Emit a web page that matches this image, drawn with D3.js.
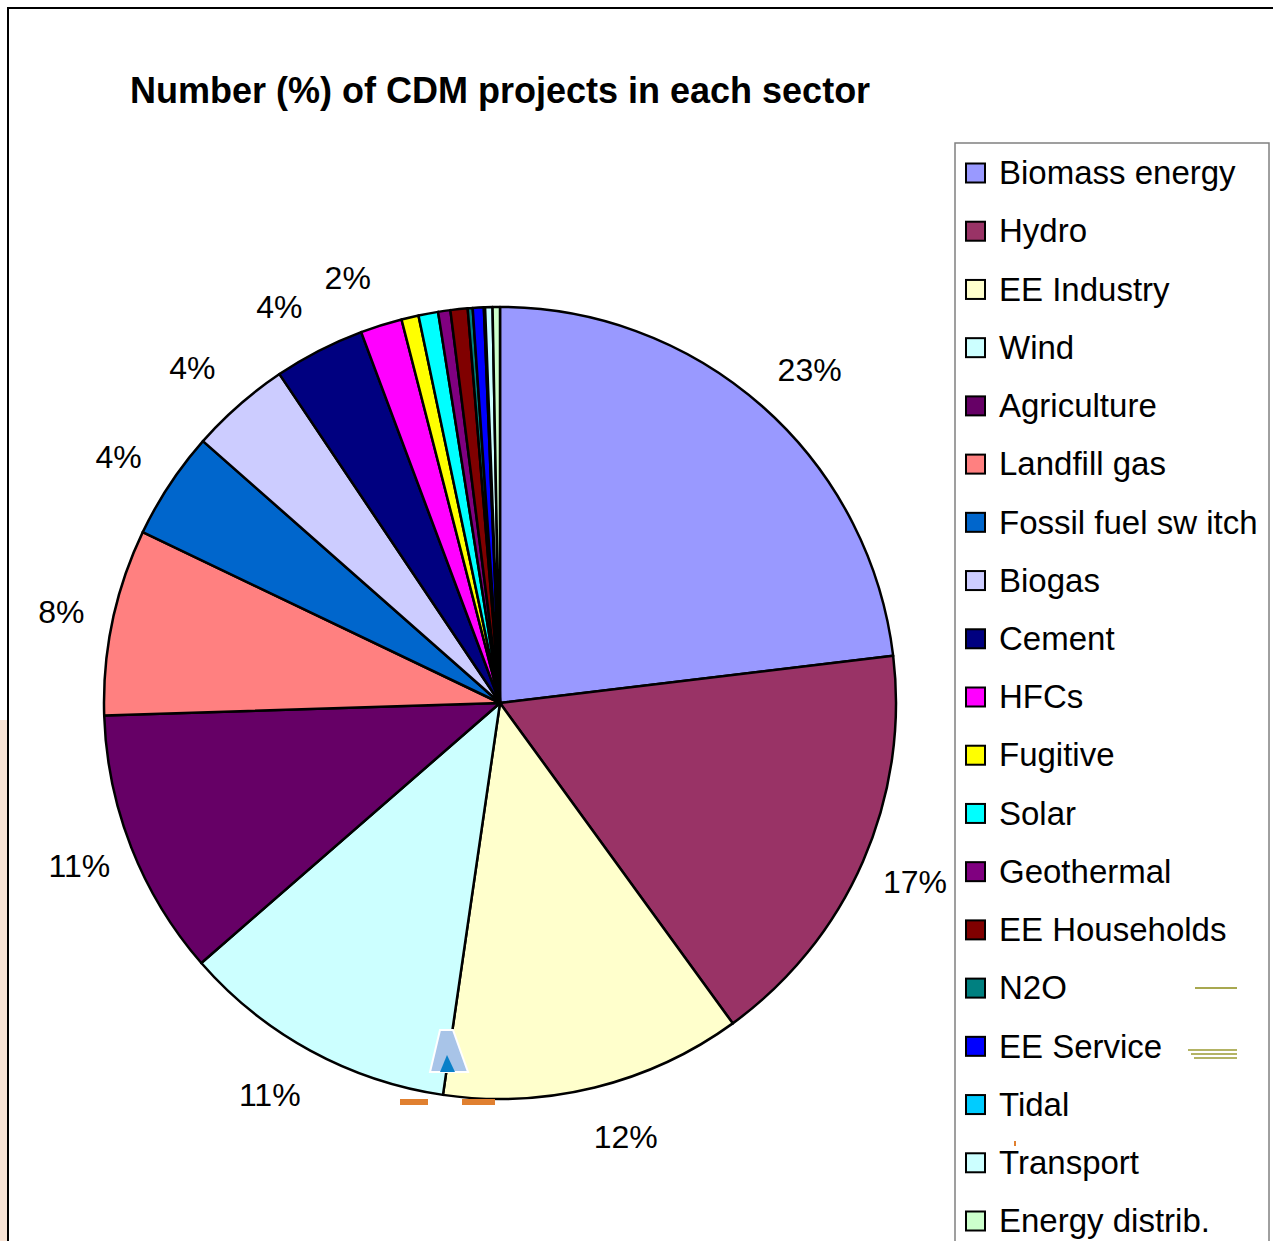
<!DOCTYPE html>
<html>
<head>
<meta charset="utf-8">
<script src="https://cdn.jsdelivr.net/npm/d3@7"></script>
<style>
  body { margin: 0; background: #fff; }
  svg { display: block; font-family: "Liberation Sans", Arial, sans-serif; }
</style>
</head>
<body>
<svg id="chart"></svg>
<script>
const sectors = ["Biomass energy", "Hydro", "EE Industry", "Wind", "Agriculture",
  "Landfill gas", "Fossil fuel sw itch", "Biogas", "Cement", "HFCs", "Fugitive",
  "Solar", "Geothermal", "EE Households", "N2O", "EE Service", "Tidal",
  "Transport", "Energy distrib."];
const shares = [23.1, 16.9, 12.3, 11.3, 10.9, 7.6, 4.4, 4.1, 3.7, 1.7, 0.7,
  0.8, 0.5, 0.7, 0.2, 0.45, 0.05, 0.3, 0.3];
const colors = ["#9999ff", "#993366", "#ffffcc", "#ccffff", "#660066", "#ff8080",
  "#0066cc", "#ccccff", "#000080", "#ff00ff", "#ffff00", "#00ffff", "#800080",
  "#800000", "#008080", "#0000ff", "#00ccff", "#ccffff", "#ccffcc"];

const size = { width: 1273, height: 1241 };
const center = { x: 500, y: 703 };
const radius = 396;

const data = sectors.map((name, i) => ({ name, value: shares[i], color: colors[i] }));
const total = d3.sum(shares);

const svg = d3.select("#chart")
  .attr("width", size.width)
  .attr("height", size.height);

// leftover tint at the left edge of the scan
svg.append("rect")
  .attr("x", 0).attr("y", 720).attr("width", 8).attr("height", size.height - 720)
  .attr("fill", "#f8e4d6");

// outer frame (top + left visible)
svg.append("path")
  .attr("d", `M8,${size.height} L8,8 L${size.width},8`)
  .attr("fill", "none")
  .attr("stroke", "#000")
  .attr("stroke-width", 2);

svg.append("text")
  .attr("x", 130)
  .attr("y", 103)
  .attr("font-size", "36px")
  .attr("font-weight", "bold")
  .text("Number (%) of CDM projects in each sector");

const pie = d3.pie().sort(null).value((d) => d.value);
const arcs = pie(data);

const arc = d3.arc().innerRadius(0).outerRadius(radius);

const g = svg.append("g").attr("transform", `translate(${center.x},${center.y})`);

g.selectAll("path.slice")
  .data(arcs)
  .enter()
  .append("path")
  .attr("class", "slice")
  .attr("d", arc)
  .attr("fill", (d) => d.data.color)
  .attr("stroke", "#000")
  .attr("stroke-width", 2.5)
  .attr("stroke-linejoin", "round");

// labels sit outside the rim, pushed sideways a little like Excel does
const labelPos = (d) => {
  const a = (d.startAngle + d.endAngle) / 2;
  const s = Math.sin(a), c = Math.cos(a);
  const x = 444 * s + 20 * Math.abs(c) * Math.sign(s);
  const y = -446 * c;
  return [x, y];
};

g.selectAll("text.pct")
  .data(arcs.filter((d) => d.data.value >= 1.5))
  .enter()
  .append("text")
  .attr("class", "pct")
  .attr("transform", (d) => `translate(${labelPos(d)})`)
  .attr("text-anchor", "middle")
  .attr("dy", "0.36em")
  .attr("font-size", "32px")
  .text((d) => Math.round((d.data.value / total) * 100) + "%");

// legend
const legend = svg.append("g");
legend.append("rect")
  .attr("x", 955).attr("y", 143)
  .attr("width", 314).attr("height", 1200)
  .attr("fill", "#fff")
  .attr("stroke", "#808080")
  .attr("stroke-width", 1.5);

const ly = d3.scalePoint().domain(sectors).range([173, 1221]);

const item = legend.selectAll("g.item")
  .data(data)
  .enter()
  .append("g")
  .attr("class", "item")
  .attr("transform", (d) => `translate(966,${ly(d.name)})`);

item.append("rect")
  .attr("x", 0).attr("y", -9.5)
  .attr("width", 19).attr("height", 19)
  .attr("fill", (d) => d.color)
  .attr("stroke", "#000")
  .attr("stroke-width", 2);

item.append("text")
  .attr("x", 33)
  .attr("dy", "0.34em")
  .attr("font-size", "33px")
  .text((d) => d.name);

// stray marks from the source image
const stray = svg.append("g");
stray.append("line").attr("x1", 1195).attr("x2", 1237).attr("y1", 988).attr("y2", 988)
  .attr("stroke", "#a8a850").attr("stroke-width", 2);
[[1188, 1050], [1191, 1054], [1194, 1058]].forEach(([x1, yy]) => {
  stray.append("line").attr("x1", x1).attr("x2", 1237).attr("y1", yy).attr("y2", yy)
    .attr("stroke", "#9a9a30").attr("stroke-width", 1.5);
});
stray.append("line").attr("x1", 1015).attr("x2", 1015).attr("y1", 1141).attr("y2", 1146)
  .attr("stroke", "#e08030").attr("stroke-width", 2);
stray.append("rect").attr("x", 400).attr("y", 1099).attr("width", 28).attr("height", 6)
  .attr("fill", "#e08030");
stray.append("rect").attr("x", 462).attr("y", 1099).attr("width", 33).attr("height", 6)
  .attr("fill", "#e08030");
stray.append("path").attr("d", "M440,1030 L453,1030 L468,1072 L430,1072 Z")
  .attr("fill", "#a8c4e8").attr("stroke", "#fff").attr("stroke-width", 2);
stray.append("path").attr("d", "M447,1055 L455,1072 L440,1072 Z")
  .attr("fill", "#0a80c8");
</script>
</body>
</html>
